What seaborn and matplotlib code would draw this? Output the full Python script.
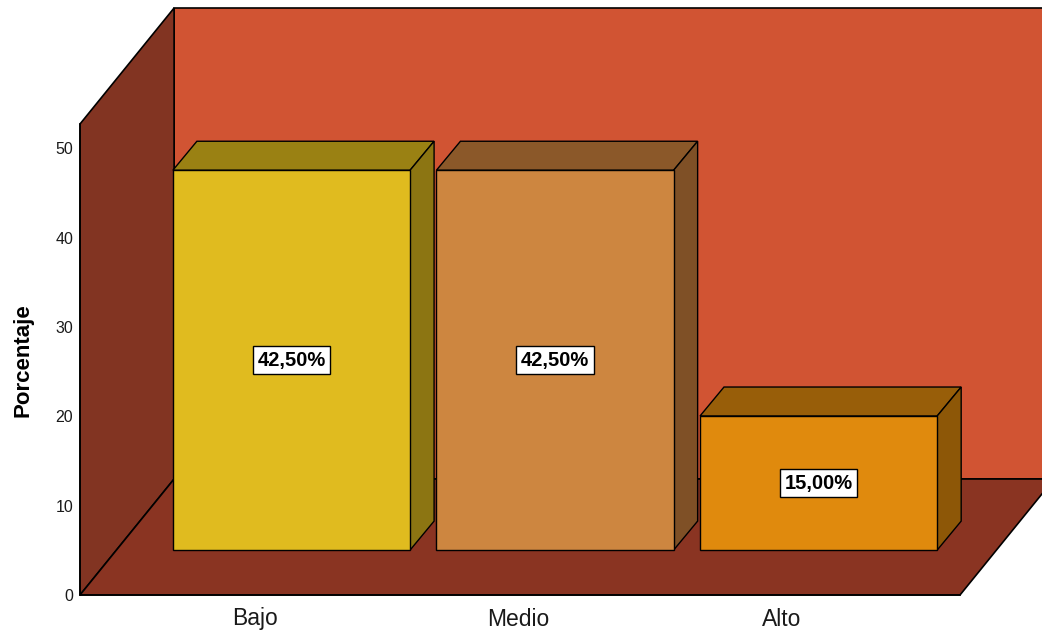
import matplotlib
matplotlib.use('Agg')
import matplotlib.pyplot as plt
import matplotlib.transforms as mtransforms
from matplotlib.patches import Polygon
import seaborn as sns

# Data
categories = ['Bajo', 'Medio', 'Alto']
percentages = [42.50, 42.50, 15.00]
value_labels = ['42,50%', '42,50%', '15,00%']
y_ticks = [0, 10, 20, 30, 40, 50]

front_colors = ['#E0BB1F', '#CD8640', '#E08A0D']
top_colors = ['#9A8113', '#8B5829', '#985E09']
side_colors = ['#8C7512', '#7F5026', '#8D5707']

sns.set_style('white')
plt.rcParams['font.family'] = ['Liberation Sans', 'DejaVu Sans']

fig = plt.figure(figsize=(10.42, 6.30), dpi=100)
ax = fig.add_axes([80 / 1042, 35 / 630, 880 / 1042, 471 / 630])
ax.patch.set_visible(False)

# front faces of the bars
sns.barplot(x=categories, y=percentages, hue=categories, palette=front_colors,
            saturation=1, width=0.9, edgecolor='black', linewidth=1,
            legend=False, ax=ax)
ax.set_xlim(-0.664, 2.675)
ax.set_ylim(0, 52.7)

# pseudo 3D depth (data units): full wall depth, bar front offset, bar depth
DX, DY = 0.357, 12.98
FX, FY = 0.1385, 5.03
BX, BY = 0.091, 3.24

xl, xr = ax.get_xlim()
yt = ax.get_ylim()[1]
wall_kw = dict(edgecolor='black', linewidth=1.2, clip_on=False, zorder=0)
ax.add_patch(Polygon([(xl + DX, DY), (xr + DX + 0.5, DY), (xr + DX + 0.5, yt + DY),
                      (xl + DX, yt + DY)], facecolor='#D15433', **wall_kw))
ax.add_patch(Polygon([(xl, 0), (xl + DX, DY), (xl + DX, yt + DY), (xl, yt)],
                     facecolor='#823422', **wall_kw))
ax.add_patch(Polygon([(xl, 0), (xr, 0), (xr + DX, DY), (xl + DX, DY)],
                     facecolor='#8A3422', **wall_kw))

shift = mtransforms.Affine2D().translate(FX, FY) + ax.transData
bars = [b for c in ax.containers for b in c]
for i, bar in enumerate(bars):
    bar.set_transform(shift)
    bar.set_zorder(3)
    bar.set_clip_on(False)
    x0 = bar.get_x() + FX
    x1 = x0 + bar.get_width()
    h = bar.get_height() + FY
    ax.add_patch(Polygon([(x0, h), (x1, h), (x1 + BX, h + BY), (x0 + BX, h + BY)],
                         facecolor=top_colors[i], edgecolor='black', linewidth=1,
                         zorder=2, clip_on=False))
    ax.add_patch(Polygon([(x1, FY), (x1 + BX, FY + BY), (x1 + BX, h + BY), (x1, h)],
                         facecolor=side_colors[i], edgecolor='black', linewidth=1,
                         zorder=2, clip_on=False))
    ax.text((x0 + x1) / 2, FY + bar.get_height() / 2, value_labels[i],
            ha='center', va='center', fontsize=14.5, fontweight='bold',
            family=['Liberation Sans Narrow', 'Liberation Sans', 'DejaVu Sans'],
            color='black', zorder=5,
            bbox=dict(boxstyle='square,pad=0.22', facecolor='white',
                      edgecolor='black', linewidth=1))

ax.set_yticks(y_ticks)
ax.set_yticklabels([str(t) for t in y_ticks], fontsize=11.5, color='#1a1a1a')
ax.set_xticks(range(len(categories)))
ax.set_xticklabels(categories, fontsize=16.5, color='#1a1a1a')
ax.tick_params(axis='both', length=0)
ax.tick_params(axis='y', pad=5)
ax.tick_params(axis='x', pad=9)
ax.set_xlabel('')
ax.set_ylabel('')

for side in ['top', 'right']:
    ax.spines[side].set_visible(False)
for side in ['left', 'bottom']:
    ax.spines[side].set_color('black')
    ax.spines[side].set_linewidth(1.2)
    ax.spines[side].set_zorder(6)

fig.text(23 / 1042, 1 - 360 / 630, 'Porcentaje', rotation=90, ha='center', va='center',
         fontsize=16, fontweight='bold', color='black')

fig.savefig('out.png', dpi=100)
